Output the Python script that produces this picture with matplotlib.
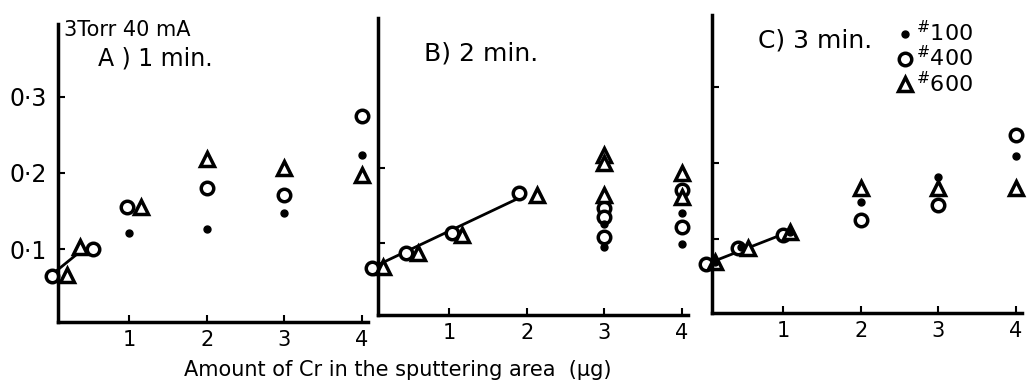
import matplotlib
matplotlib.use('Agg')
import matplotlib.pyplot as plt
from matplotlib.lines import Line2D

plt.rcParams['font.family'] = ['DejaVu Sans']

# Panel A) 1 min
a_dot_x = [1.0, 2.0, 3.0, 4.0]
a_dot_y = [0.122, 0.127, 0.147, 0.224]
a_circ_x = [0.0, 0.53, 0.97, 2.0, 3.0, 4.0]
a_circ_y = [0.065, 0.100, 0.155, 0.180, 0.171, 0.275]
a_tri_x = [0.2, 0.37, 1.15, 2.0, 3.0, 4.0]
a_tri_y = [0.066, 0.103, 0.155, 0.218, 0.206, 0.197]
a_fit_x = [0.0, 0.4]
a_fit_y = [0.067, 0.100]

# Panel B) 2 min
b_dot_x = [3.0, 3.0, 4.0, 4.0]
b_dot_y = [0.125, 0.095, 0.140, 0.099]
b_circ_x = [0.0, 0.44, 1.04, 1.9, 3.0, 3.0, 3.0, 4.0, 4.0]
b_circ_y = [0.067, 0.087, 0.113, 0.167, 0.147, 0.135, 0.108, 0.171, 0.121]
b_tri_x = [0.14, 0.59, 1.17, 2.13, 3.0, 3.0, 3.0, 4.0, 4.0]
b_tri_y = [0.068, 0.087, 0.111, 0.164, 0.218, 0.207, 0.164, 0.193, 0.161]
b_fit_x = [0.0, 1.9]
b_fit_y = [0.067, 0.160]

# Panel C) 3 min
c_dot_x = [0.12, 0.45, 1.08, 2.0, 3.0, 4.0]
c_dot_y = [0.070, 0.090, 0.110, 0.149, 0.182, 0.210]
c_circ_x = [0.0, 0.42, 1.0, 2.0, 3.0, 4.0]
c_circ_y = [0.068, 0.088, 0.105, 0.125, 0.145, 0.237]
c_tri_x = [0.12, 0.55, 1.08, 2.0, 3.0, 4.0]
c_tri_y = [0.070, 0.088, 0.110, 0.168, 0.167, 0.168]
c_fit_x = [0.0, 1.08]
c_fit_y = [0.067, 0.110]

panels = [
    ('A) 1 min.', a_dot_x, a_dot_y, a_circ_x, a_circ_y, a_tri_x, a_tri_y, a_fit_x, a_fit_y),
    ('B) 2 min.', b_dot_x, b_dot_y, b_circ_x, b_circ_y, b_tri_x, b_tri_y, b_fit_x, b_fit_y),
    ('C) 3 min.', c_dot_x, c_dot_y, c_circ_x, c_circ_y, c_tri_x, c_tri_y, c_fit_x, c_fit_y),
]
mesh_labels = ['100', '400', '600']
x_ticks = [1, 2, 3, 4]
y_ticks = [[0.1, 0.2, 0.3], [0.1, 0.2], [0.1, 0.2, 0.3]]
y_tick_labels = ['0·1', '0·2', '0·3']

W, H = 1033, 383
fig = plt.figure(figsize=(W / 100, H / 100), dpi=100)
# left px, bottom px (from top), height px, y limits -- the scan is a little skewed
boxes = [(58, 322, 298, (0.005, 0.395)),
         (378, 315, 297, (0.004, 0.400)),
         (712, 313, 298, (0.003, 0.395))]
ax_w = 310

axes = []
for i, (title, dx, dy, cx, cy, tx, ty, fx, fy) in enumerate(panels):
    left, bottom, h, ylim = boxes[i]
    ax = fig.add_axes([left / W, (H - bottom) / H, ax_w / W, h / H])
    ax.plot(fx, fy, color='black', lw=2, zorder=1, clip_on=False)
    ax.plot(dx, dy, 'o', ms=5, color='black', clip_on=False, zorder=3)
    ax.plot(cx, cy, 'o', ms=9, mfc='white', mec='black', mew=2.5, clip_on=False, zorder=2)
    ax.plot(tx, ty, '^', ms=10, mfc='white', mec='black', mew=2.5, clip_on=False, zorder=2)
    ax.set_xlim(0.08, 4.08)
    ax.set_ylim(*ylim)
    for s in ['top', 'right']:
        ax.spines[s].set_visible(False)
    for s in ['left', 'bottom']:
        ax.spines[s].set_linewidth(2.5)
    ax.set_xticks(x_ticks)
    ax.set_xticklabels([str(t) for t in x_ticks], fontsize=15)
    ax.set_yticks(y_ticks[i])
    if i == 0:
        ax.set_yticklabels(y_tick_labels[:len(y_ticks[i])], fontsize=17)
    else:
        ax.set_yticklabels([])
    ax.tick_params(direction='in', length=5, width=1.5, pad=6)
    ax.tick_params(axis='y', pad=8)
    axes.append(ax)

axA, axB, axC = axes
axA.text(0.02, 1.015, '3Torr 40 mA', transform=axA.transAxes, fontsize=15, va='top')
axA.text(0.13, 0.925, 'A ) 1 min.', transform=axA.transAxes, fontsize=17, va='top')
axB.text(0.15, 0.92, 'B) 2 min.', transform=axB.transAxes, fontsize=18, va='top')
axC.text(0.15, 0.955, 'C) 3 min.', transform=axC.transAxes, fontsize=18, va='top')

handles = [
    Line2D([], [], ls='none', marker='o', ms=5, color='black'),
    Line2D([], [], ls='none', marker='o', ms=9, mfc='white', mec='black', mew=2.5),
    Line2D([], [], ls='none', marker='^', ms=10, mfc='white', mec='black', mew=2.5),
]
axC.legend(handles, [r'$^{\#}$' + m for m in mesh_labels], loc='upper left',
           bbox_to_anchor=(0.55, 1.02), frameon=False, fontsize=16,
           handletextpad=0.0, labelspacing=0.0, handlelength=1.0, borderpad=0)

fig.text(398 / W, 3 / H, 'Amount of Cr in the sputtering area  (μg)', ha='center',
         va='bottom', fontsize=15)

fig.savefig('out.png', dpi=100)
